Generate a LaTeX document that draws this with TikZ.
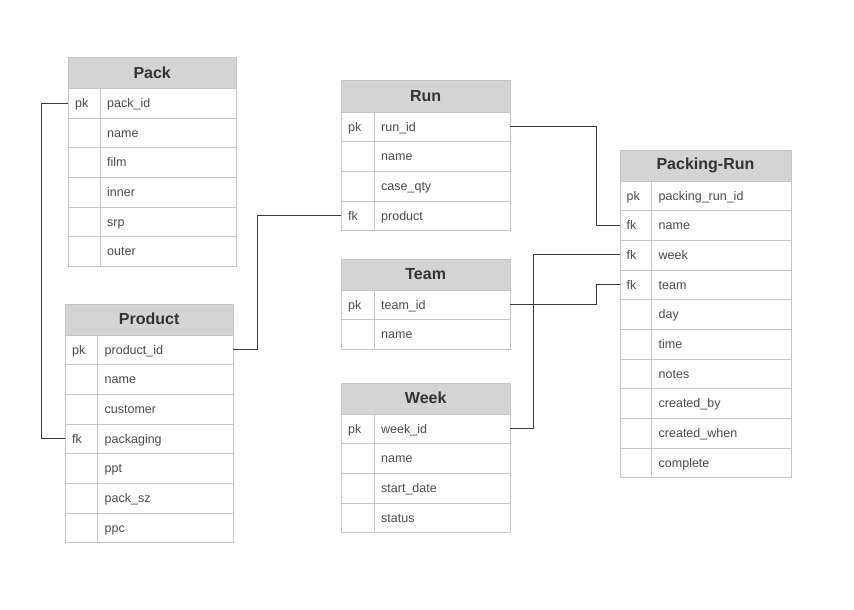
\documentclass[tikz,border=0pt]{standalone}
\usepackage{fontspec}
\setmainfont{Liberation Sans}
\definecolor{hdrgray}{HTML}{D4D4D4}
\definecolor{bordergray}{HTML}{C4C4C4}
\definecolor{hdrtext}{HTML}{333333}
\definecolor{fieldtext}{HTML}{4A4A4A}
\definecolor{linkgray}{HTML}{3C3C3C}
\tikzset{
  hdr/.style={draw=bordergray, fill=hdrgray, minimum height=31pt, minimum width=#1,
    anchor=north west, inner sep=0pt, text=hdrtext, font=\bfseries\fontsize{16}{19}\selectfont},
  rowbox/.style={draw=bordergray, fill=white, minimum height=29.67pt, minimum width=#1,
    anchor=north west, inner sep=0pt},
  celltxt/.style={anchor=base west, inner sep=0pt, text=fieldtext, font=\fontsize{12.5}{15}\selectfont},
  link/.style={draw=linkgray, line width=1pt}
}
\newcommand\ertable[7]{%
  \node[hdr={#4pt}] (#1) at (#2pt,-#3pt) {#6};
  \foreach \k/\f [count=\i] in {#7} {
    \pgfmathsetmacro\yy{#3+31+(\i-1)*29.67}
    \node[rowbox={#4pt}] (#1-\i) at (#2pt,-\yy pt) {};
    \draw[bordergray] ([xshift=#5pt]#1-\i.north west) -- ([xshift=#5pt]#1-\i.south west);
    \node[celltxt] (#1-\i-k) at ([xshift=7pt,yshift=-4.5pt]#1-\i.west) {\k};
    \node[celltxt] (#1-\i-f) at ([xshift=#5pt+7pt,yshift=-4.5pt]#1-\i.west) {\f};
  }
}
\begin{document}
\begin{tikzpicture}
\useasboundingbox[fill=white] (0,0) rectangle (854pt,-610pt);
\ertable{pack}{68}{57}{168}{32}{Pack}{pk/pack\_id, /name, /film, /inner, /srp, /outer}
\ertable{product}{65}{303.5}{168}{32.5}{Product}{pk/product\_id, /name, /customer, fk/packaging, /ppt, /pack\_sz, /ppc}
\ertable{run}{341}{80.5}{169}{33}{Run}{pk/run\_id, /name, /case\_qty, fk/product}
\ertable{team}{341}{258.5}{169}{33}{Team}{pk/team\_id, /name}
\ertable{week}{341}{382.5}{169}{33}{Week}{pk/week\_id, /name, /start\_date, /status}
\ertable{packrun}{619.5}{149.5}{171.5}{32}{Packing-Run}{pk/packing\_run\_id, fk/name, fk/week, fk/team, /day, /time, /notes, /created\_by, /created\_when, /complete}
% connectors
\draw[link] (pack-1.west) -- ++(-27pt,0) |- (product-4.west);
\draw[link] (product-1.east) -- ++(24pt,0) |- (run-4.west);
\draw[link] (run-1.east) -- ++(86pt,0) |- (packrun-2.west);
\draw[link] (week-1.east) -- ++(23pt,0) |- (packrun-3.west);
\draw[link] (team-1.east) -- ++(86pt,0) |- (packrun-4.west);
\end{tikzpicture}
\end{document}
